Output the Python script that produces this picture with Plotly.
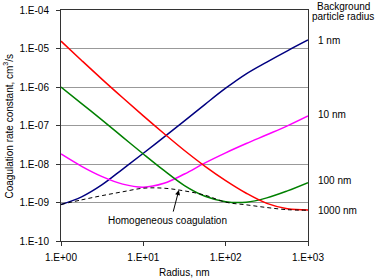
import plotly.graph_objects as go
import math

# ---- data ----
radius_nm = [1, 1.78, 3.16, 5.62, 10, 17.8, 31.6, 56.2, 100, 178, 316, 562, 1000]

k_1nm = [8.9e-10, 1.4e-9, 2.9e-9, 7.4e-9, 1.9e-8, 5.0e-8, 1.32e-7, 3.55e-7, 9.3e-7,
         2.2e-6, 4.45e-6, 8.7e-6, 1.66e-5]
k_10nm = [1.82e-8, 8.7e-9, 4.7e-9, 3.0e-9, 2.5e-9, 3.15e-9, 5.5e-9, 1.07e-8, 1.95e-8,
          3.4e-8, 5.75e-8, 9.8e-8, 1.77e-7]
k_100nm = [1e-6, 3.7e-7, 1.38e-7, 5.0e-8, 1.82e-8, 6.8e-9, 2.75e-9, 1.45e-9, 1.05e-9,
           1.02e-9, 1.32e-9, 2.0e-9, 3.27e-9]
k_1000nm = [1.55e-5, 4.9e-6, 1.58e-6, 5.25e-7, 1.78e-7, 6.2e-8, 2.24e-8, 8.7e-9, 3.7e-9,
            1.74e-9, 9.5e-10, 6.9e-10, 6.4e-10]
k_homog = [8.9e-10, 1.17e-9, 1.51e-9, 1.9e-9, 2.35e-9, 2.35e-9, 2.0e-9, 1.55e-9, 1.02e-9,
           8.7e-10, 7.4e-10, 6.5e-10, 6.3e-10]

x_ticks = [1, 10, 100, 1000]
x_ticktext = ["1.E+00", "1.E+01", "1.E+02", "1.E+03"]
y_ticks = [1e-10, 1e-9, 1e-8, 1e-7, 1e-6, 1e-5, 1e-4]
y_ticktext = ["1.E-10", "1.E-09", "1.E-08", "1.E-07", "1.E-06", "1.E-05", "1.E-04"]

series_labels = ["1 nm", "10 nm", "100 nm", "1000 nm"]

FONT = "Liberation Sans, Arial, sans-serif"

fig = go.Figure()
series = [
    (k_1nm, "#000080"),
    (k_10nm, "#FF00FF"),
    (k_100nm, "#008000"),
    (k_1000nm, "#FF0000"),
]
for (ky, col), name in zip(series, series_labels):
    fig.add_trace(go.Scatter(x=radius_nm, y=ky, mode="lines", name=name,
                             line=dict(color=col, width=1.5, shape="spline", smoothing=1.0)))
fig.add_trace(go.Scatter(x=radius_nm, y=k_homog, mode="lines", name="Homogeneous",
                         line=dict(color="black", width=1, dash="4px,3px", shape="spline", smoothing=1.0)))

fig.update_layout(
    width=380, height=280,
    margin=dict(l=61, r=72, t=10, b=39, autoexpand=False),
    paper_bgcolor="white", plot_bgcolor="white",
    showlegend=False,
    font=dict(family=FONT, size=10, color="black"),
)
fig.update_xaxes(type="log", range=[0, 3], tickvals=x_ticks, ticktext=x_ticktext,
                 showgrid=False, showline=True, linecolor="#333", linewidth=1, mirror=True,
                 ticks="outside", ticklen=4, tickcolor="#333", ticklabelstandoff=3,
                 tickfont=dict(family=FONT, size=10))
fig.update_yaxes(type="log", range=[-10, -4], tickvals=y_ticks, ticktext=y_ticktext,
                 showgrid=True, gridcolor="#999999", gridwidth=1,
                 showline=True, linecolor="#333", linewidth=1, mirror=True,
                 ticks="outside", ticklen=4, tickcolor="#333", ticklabelstandoff=5,
                 tickfont=dict(family=FONT, size=10))

ann = []
ann.append(dict(xref="paper", yref="paper", x=-0.2146, y=0.5, text="Coagulation rate constant, cm<sup>3</sup>/s",
                textangle=-90, showarrow=False, xanchor="center", yanchor="middle", font=dict(size=10)))
ann.append(dict(xref="paper", yref="paper", x=0.5, y=-0.1385, text="Radius, nm",
                showarrow=False, xanchor="center", yanchor="middle", font=dict(size=10)))
ann.append(dict(xref="paper", yref="paper", x=1.142, y=1.017, text="Background",
                showarrow=False, xanchor="center", yanchor="middle", font=dict(size=10)))
ann.append(dict(xref="paper", yref="paper", x=1.142, y=0.970, text="particle radius",
                showarrow=False, xanchor="center", yanchor="middle", font=dict(size=10)))
for lab, yy in zip(series_labels, [0.870, 0.5455, 0.261, 0.131]):
    ann.append(dict(xref="paper", yref="paper", x=1.032, y=yy, text=lab,
                    showarrow=False, xanchor="left", yanchor="middle", font=dict(size=10)))
ann.append(dict(xref="paper", yref="paper", x=(167 - 61) / 247, y=(241 - 220) / 231,
                text="Homogeneous coagulation", showarrow=False,
                xanchor="center", yanchor="middle", font=dict(size=10)))
ann.append(dict(x=math.log10(27), y=math.log10(2.1e-9), xref="x", yref="y", text="",
                showarrow=True, arrowhead=2, arrowsize=1, arrowwidth=1, arrowcolor="black",
                ax=-6, ay=23, axref="pixel", ayref="pixel"))
fig.update_layout(annotations=ann)

fig.write_html("out.html", config={"displayModeBar": False},
               post_script="document.body.style.margin='0';")
